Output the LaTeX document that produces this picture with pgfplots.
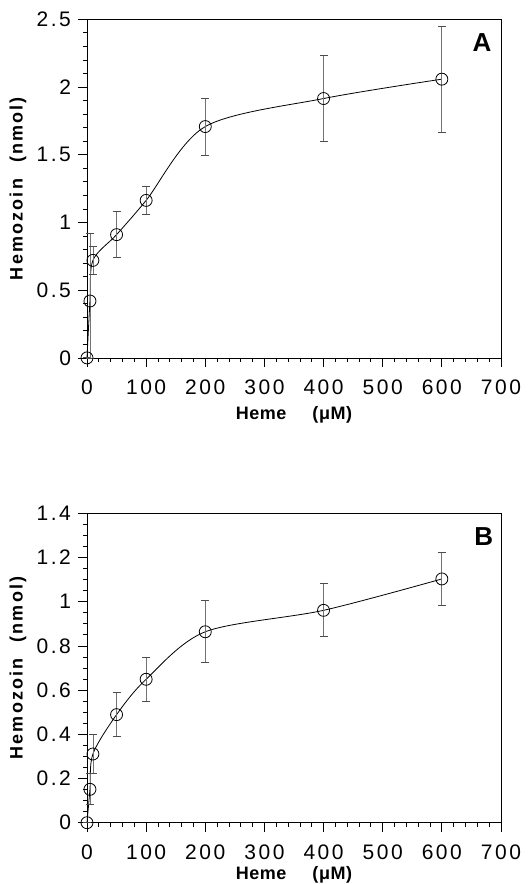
\documentclass[border=0pt]{standalone}
\usepackage{fontspec}
\setmainfont{Liberation Sans}
\newfontfamily\tickfont[LetterSpace=12]{Liberation Sans}
\newfontfamily\ylabfont[LetterSpace=12]{Liberation Sans Bold}
\newfontfamily\xlabfont[LetterSpace=3]{Liberation Sans Bold}
\usepackage{pgfplots}
\pgfplotsset{compat=1.18}

% heme (uM), hemozoin (nmol), error + / -
\pgfplotstableread{
x   y     ep    em
0   0     0     0
5   0.42  0.50  0.42
10  0.72  0.10  0.10
50  0.91  0.17  0.17
100 1.163 0.105 0.105
200 1.708 0.21  0.21
400 1.915 0.32  0.32
600 2.058 0.39  0.39
}\dataA
\pgfplotstableread{
x   y     ep    em
0   0     0     0
5   0.151 0.07  0.07
10  0.311 0.09  0.09
50  0.489 0.10  0.10
100 0.649 0.10  0.10
200 0.864 0.14  0.14
400 0.961 0.12  0.12
600 1.103 0.12  0.12
}\dataB

\pgfplotsset{
  heme/.style={
    scale only axis, width=207pt,
    xmin=0, xmax=700, xtick={0,100,...,700}, minor x tick num=4,
    tick align=outside, tick pos=left,
    major tick length=4.5pt, minor tick length=2pt,
    every tick/.style={black, thin},
    axis line style={black, thin},
    /pgf/number format/assume math mode=true,
    ticklabel style={font=\tickfont\fontsize{10.5}{12}\selectfont},
    xticklabel style={yshift=-3pt},
    xlabel={Heme\hspace{13pt}(μM)},
    ylabel={Hemozoin\hspace{8pt}(nmol)},
    every axis y label/.style={at={(axis description cs:-0.1667,0.5)}, rotate=90, anchor=center,
      font=\ylabfont\fontsize{9}{10}\selectfont},
    clip=false,
  },
  curve/.style={
    black, thin, smooth, tension=0.5, mark=o, mark size=3pt,
    mark options={solid, black, thin},
    error bars/.cd, y dir=both, y explicit,
    error bar style={black!55, thin},
    error mark options={rotate=90, mark size=2pt, black!70, thin},
  },
}

\begin{document}
\begin{tikzpicture}
\path[use as bounding box] (-43.5pt,9.65pt) rectangle (221pt,-432.35pt);

\begin{axis}[heme, height=169.3pt, at={(0,0)}, anchor=north west,
  ymin=0, ymax=2.5, ytick={0,0.5,...,2.5}, minor y tick num=4,
  every axis x label/.style={at={(axis description cs:0.5,0)}, anchor=center, yshift=-28.7pt,
    font=\xlabfont\fontsize{9}{10}\selectfont}]
\addplot[curve] table[x=x, y=y, y error plus=ep, y error minus=em] {\dataA};
\node[font=\bfseries\fontsize{13}{13}\selectfont] at (axis cs:668,2.325) {A};
\end{axis}

\begin{axis}[heme, height=154.7pt, at={(0,-247pt)}, anchor=north west,
  ymin=0, ymax=1.4, ytick={0,0.2,...,1.4}, minor y tick num=3,
  every axis x label/.style={at={(axis description cs:0.5,0)}, anchor=center, yshift=-26pt,
    font=\xlabfont\fontsize{9}{10}\selectfont}]
\addplot[curve] table[x=x, y=y, y error plus=ep, y error minus=em] {\dataB};
\node[font=\bfseries\fontsize{13}{13}\selectfont] at (axis cs:671,1.293) {B};
\end{axis}
\end{tikzpicture}
\end{document}
